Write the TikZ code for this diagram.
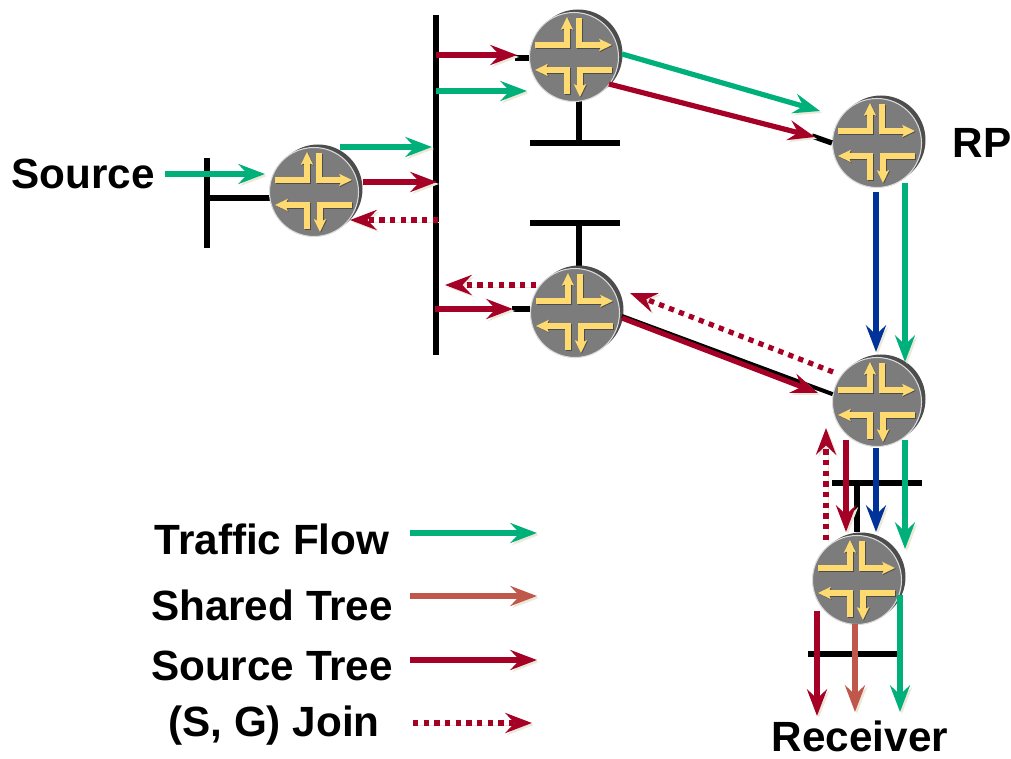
\documentclass[tikz,border=0pt]{standalone}
\usepackage{fontspec}
\setmainfont{Liberation Sans}
\usetikzlibrary{arrows.meta,calc}
\definecolor{flowgreen}{RGB}{0,176,123}
\definecolor{treered}{RGB}{165,0,38}
\definecolor{sharedbrown}{RGB}{192,87,75}
\definecolor{rptblue}{RGB}{0,51,153}
\definecolor{routergray}{RGB}{124,124,124}
\definecolor{routerback}{RGB}{77,77,77}
\definecolor{glyphyellow}{RGB}{255,218,112}
\definecolor{softshadow}{RGB}{236,232,216}
\tikzset{
    label/.style={font=\fontsize{31.7}{36}\selectfont\bfseries, inner sep=0pt},
    bus/.style={line width=4pt, black},
    flow/.style={line width=3.9pt, -{Stealth[length=20pt,width=15pt,inset=7pt]},
        preaction={draw=softshadow, transform canvas={xshift=1.5pt,yshift=-1.5pt}}},
    dotflow/.style={flow, dash pattern=on 4pt off 4pt},
    router/.style={circle, fill=routergray, draw=gray!30, line width=0.8pt,
        minimum size=66.75pt, inner sep=0pt},
    glyph/.style={line width=4.3pt, -{Stealth[length=9.5pt,width=9pt,inset=2pt]}},
    routerglyph/.pic={
        \foreach \gcol/\gs in {black!70/0.8, glyphyellow/0}{
            \begin{scope}[shift={(\gs,\gs)}, glyph, color=\gcol]
                \draw (-39,-12) -- (-7,-12) -- (-7,-40);
                \draw (5,-39) -- (5,-12) -- (38,-12);
                \draw (-7,37) -- (-7,13) -- (-39,13);
                \draw (38,13) -- (6,13) -- (6,40);
            \end{scope}
        }
    }
}
\begin{document}
\begin{tikzpicture}[x=0.75pt,y=-0.75pt]
    \useasboundingbox (0,0) rectangle (1011,759);
    % buses and stubs
    \draw[bus] (436,15) -- (436,355);
    \draw[bus] (207,158) -- (207,248);
    \draw[bus] (207,198) -- (270,198);
    \draw[bus] (579,100) -- (579,143);
    \draw[bus] (530,143) -- (620,143);
    \draw[bus] (530,223) -- (620,223);
    \draw[bus] (579,223) -- (579,268);
    \draw[bus] (832,483) -- (922,483);
    \draw[bus] (857,483) -- (857,532);
    \draw[bus] (808,654) -- (898,654);

    % routers
    \foreach \rname/\rx/\ry in {srcrouter/314/192, toprouter/574/57, rprouter/877/143,
        midrouter/575/313, lastrouter/877/402, recvrouter/857/580}{
        \fill[routerback] (\rx+4,\ry-3) circle (44.5);
        \node[router] (\rname) at (\rx,\ry) {};
        \pic at (\rname) {routerglyph};
    }

    % black links
    \coordinate (topstub) at (515,58);
    \coordinate (midstub) at (512,309);
    \draw[bus] (topstub) -- (topstub -| toprouter.west);
    \draw[bus] (midstub) -- (midstub -| midrouter.west);
    \draw[bus] (812,136) -- (rprouter.west);
    \draw[line width=3pt] (622,316) -- (lastrouter.170);

    % free ends of the arrows
    \coordinate (srcA) at (165,174);   \coordinate (srcB) at (265,174);
    \coordinate (upA) at (340,147);    \coordinate (upB) at (432,147);
    \coordinate (upC) at (363,182);    \coordinate (upD) at (437,182);
    \coordinate (joinA) at (438,220);  \coordinate (joinB) at (350,220);
    \coordinate (topA) at (436,55);    \coordinate (topB) at (517,55);
    \coordinate (topC) at (436,91);    \coordinate (topD) at (527,91);
    \coordinate (midA) at (536,285);   \coordinate (midB) at (445,285);
    \coordinate (midC) at (435,309);   \coordinate (midD) at (513,309);
    \coordinate (rpA) at (622,54);     \coordinate (rpB) at (820,111);
    \coordinate (rpC) at (609,84);     \coordinate (rpD) at (815,137);
    \coordinate (downA) at (876,192);  \coordinate (downB) at (876,352);
    \coordinate (downC) at (905,183);  \coordinate (downD) at (905,362);
    \coordinate (crossA) at (622,318); \coordinate (crossB) at (818,393);
    \coordinate (crossC) at (833,372); \coordinate (crossD) at (630,293);
    \coordinate (lowA) at (826,540);   \coordinate (lowB) at (826,428);
    \coordinate (lowC) at (846,440);   \coordinate (lowD) at (846,532);
    \coordinate (lowE) at (876,448);   \coordinate (lowF) at (876,532);
    \coordinate (lowG) at (905,440);   \coordinate (lowH) at (905,549);
    \coordinate (recvA) at (817,611);  \coordinate (recvB) at (817,716);
    \coordinate (recvC) at (855,624);  \coordinate (recvD) at (855,712);
    \coordinate (recvE) at (900,595);  \coordinate (recvF) at (900,712);
    \coordinate (keyA) at (410,533);   \coordinate (keyB) at (537,533);
    \coordinate (keyC) at (410,596);   \coordinate (keyD) at (537,596);
    \coordinate (keyE) at (410,660);   \coordinate (keyF) at (537,660);
    \coordinate (keyG) at (413,723);   \coordinate (keyH) at (532,723);

    % traffic flow
    \draw[flow, flowgreen] (srcA) -- (srcB);
    \draw[flow, flowgreen] (upA) -- (upB);
    \draw[flow, flowgreen] (topC) -- (topD);
    \draw[flow, flowgreen] (rpA) -- (rpB);
    \draw[flow, flowgreen] (downC) -- (downD);
    \draw[flow, flowgreen] (lowG) -- (lowH);
    \draw[flow, flowgreen] (recvE) -- (recvF);
    % shared tree
    \draw[flow, rptblue] (downA) -- (downB);
    \draw[flow, rptblue] (lowE) -- (lowF);
    \draw[flow, sharedbrown] (recvC) -- (recvD);
    % source tree
    \draw[flow, treered] (upC) -- (upD);
    \draw[flow, treered] (topA) -- (topB);
    \draw[flow, treered] (midC) -- (midD);
    \draw[flow, treered] (rpC) -- (rpD);
    \draw[flow, treered] (crossA) -- (crossB);
    \draw[flow, treered] (lowC) -- (lowD);
    \draw[flow, treered] (recvA) -- (recvB);
    % joins
    \draw[dotflow, treered] (joinA) -- (joinB);
    \draw[dotflow, treered] (midA) -- (midB);
    \draw[dotflow, treered] (crossC) -- (crossD);
    \draw[dotflow, treered] (lowA) -- (lowB);

    % legend
    \draw[flow, flowgreen] (keyA) -- (keyB);
    \draw[flow, sharedbrown] (keyC) -- (keyD);
    \draw[flow, treered] (keyE) -- (keyF);
    \draw[dotflow, treered] (keyG) -- (keyH);

    % labels
    \node[label] (srclabel) at (83,174) {Source};
    \node[label] (rplabel) at (982,143) {RP};
    \node[label] (recvlabel) at (860,736) {Receiver};
    \node[label] (trafficlabel) at (272,539) {Traffic Flow};
    \node[label] (sharedlabel) at (272,605) {Shared Tree};
    \node[label] (sourcelabel) at (272,666) {Source Tree};
    \node[label] (joinlabel) at (274,726) {(S, G) Join};
\end{tikzpicture}
\end{document}
